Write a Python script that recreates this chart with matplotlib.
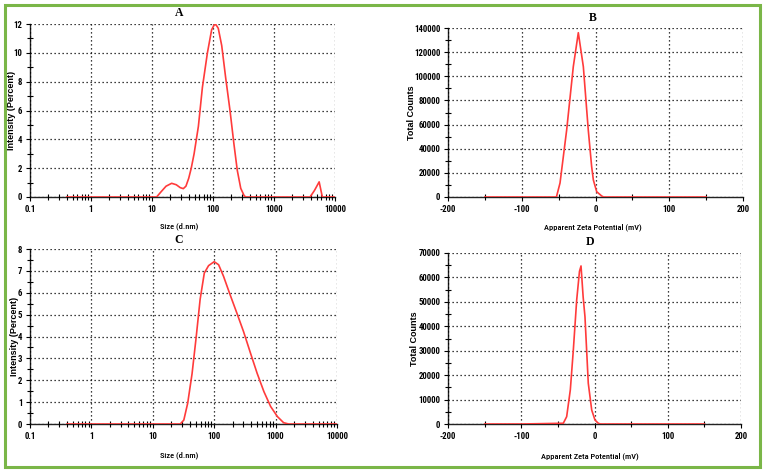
import matplotlib
matplotlib.use("Agg")
import matplotlib.pyplot as plt
from matplotlib import font_manager
from matplotlib.font_manager import FontProperties
from matplotlib.patches import Rectangle
from matplotlib.ticker import FixedLocator, NullFormatter, LogLocator

# ---------------- data ----------------
# Panel A: size distribution (intensity %)
size_a = [0.4, 1, 5, 11.9, 14, 17, 21, 25, 29, 32.6, 36, 40, 44, 49, 57.6, 67, 81, 95,
          105, 112, 122, 139, 161, 190, 220, 250, 285, 325, 347, 1000, 3900, 4600, 5500,
          6200, 8000, 10000]
int_a = [0, 0, 0, 0, 0.35, 0.75, 0.95, 0.85, 0.65, 0.58, 0.75, 1.3, 2.0, 3.0, 4.9, 7.6, 10.0, 11.6,
         11.95, 11.95, 11.7, 10.5, 8.3, 6.0, 3.7, 1.85, 0.6, 0.08, 0, 0, 0, 0.45, 1.05,
         0, 0, 0]

# Panel C: size distribution (intensity %)
size_c = [0.4, 1, 10, 28, 32, 37, 43.6, 51, 59, 69, 81, 100, 118, 142, 182, 234, 300,
          390, 500, 645, 830, 1070, 1350, 1630, 3000, 10000]
int_c = [0, 0, 0, 0, 0.18, 0.95, 2.3, 4.0, 5.7, 6.9, 7.24, 7.42, 7.28, 6.75, 5.9, 5.07, 4.23,
         3.24, 2.32, 1.48, 0.8, 0.34, 0.06, 0, 0, 0]

# Panel B: zeta potential (total counts)
zeta_b = [-150, -100, -53, -48.1, -39.1, -30.1, -23.3, -16.5, -9.8, -5.2, -2.9, 1.6, 8.4,
          11, 50, 100, 150]
counts_b = [0, 0, 0, 11600, 55500, 108000, 136100, 108000, 55500, 25100, 14100, 4400, 830,
            0, 0, 0, 0]

# Panel D: zeta potential (total counts)
zeta_d = [-150, -100, -42.6, -38, -33, -28.9, -24.3, -20.5, -18.4, -15.5, -13, -8.5, -3.8,
          0.7, 5.2, 8, 50, 100, 150]
counts_d = [0, 0, 300, 3000, 14000, 30300, 50800, 62500, 64700, 52000, 43900, 16700, 5700,
            1600, 300, 0, 0, 0, 0]

size_ticks = [0.1, 1, 10, 100, 1000, 10000]
size_labels = ["0.1", "1", "10", "100", "1000", "10000"]
zeta_ticks = [-200, -100, 0, 100, 200]
zeta_labels = ["-200", "-100", "0", "100", "200"]

# ---------------- fonts ----------------
def weight_num(w):
    if isinstance(w, (int, float)):
        return int(w)
    return font_manager.weight_dict.get(str(w), 400)


def find_narrow(target_weight):
    prefs = ["liberation sans narrow", "arial narrow", "roboto condensed",
             "open sans condensed", "noto sans condensed", "dejavu sans condensed"]
    cands = []
    for f in font_manager.fontManager.ttflist:
        nm = f.name.lower()
        fn = f.fname.lower()
        cond = ("narrow" in nm or "condensed" in nm or "narrow" in fn or "condensed" in fn
                or str(f.stretch) in ("condensed", "semi-condensed", "extra-condensed"))
        if not cond or f.style != "normal":
            continue
        key = nm + " " + ("condensed" if "condensed" in fn else "")
        rank = len(prefs)
        for i, p in enumerate(prefs):
            if p.split()[0] in key and ("narrow" in key or "condensed" in key):
                rank = i
                break
        cands.append((rank, abs(weight_num(f.weight) - target_weight), f.fname))
    if cands:
        cands.sort()
        return cands[0][2]
    return None

tick_path = find_narrow(650)
lab_path = find_narrow(500)
if tick_path:
    TICKFP = FontProperties(fname=tick_path, size=6.3)
    LABFP = FontProperties(fname=lab_path, size=6.0)
else:
    TICKFP = FontProperties(family="Liberation Sans", size=5.5, weight="bold")
    LABFP = FontProperties(family="Liberation Sans", size=5.5)
YLABFP = FontProperties(family="Liberation Sans", size=6.5, weight="bold")
serif = "Liberation Serif"

RED = "#ff3b3b"
GRID = dict(color="black", linestyle=(0, (1, 2.2)), linewidth=0.9)

fig = plt.figure(figsize=(7.65, 4.72), dpi=100)
fig.patches.append(Rectangle((5 / 765, 5 / 472), 755 / 765, 462 / 472, transform=fig.transFigure,
                             fill=False, edgecolor="#7ab648", linewidth=2.2))


def style(ax, title, tpos, xlab, xlpos, ylab, ylpos):
    for s in ("top", "right"):
        ax.spines[s].set_visible(False)
    for s in ("left", "bottom"):
        ax.spines[s].set_linewidth(1.0)
        ax.spines[s].set_color("#222222")
    ax.grid(True, which="major", **GRID)
    ax.set_axisbelow(False)
    ax.tick_params(which="major", direction="out", length=3, width=0.8, pad=2.5)
    ax.tick_params(which="minor", direction="inout", length=4, width=0.8)
    for lab in ax.get_xticklabels() + ax.get_yticklabels():
        lab.set_fontproperties(TICKFP)
    ax.text(tpos[0], tpos[1], title, transform=ax.transAxes, ha="center", va="center",
            family=serif, fontsize=8.5, fontweight="bold")
    ax.set_xlabel(xlab, fontproperties=LABFP)
    ax.xaxis.set_label_coords(xlpos[0], xlpos[1])
    ax.set_ylabel(ylab, fontproperties=YLABFP)
    ax.yaxis.set_label_coords(ylpos[0], ylpos[1])


def size_axes(ax, ymax):
    ax.set_xscale("log")
    ax.set_xlim(0.1, 10000)
    ax.set_ylim(0, ymax)
    ax.xaxis.set_major_locator(FixedLocator(size_ticks))
    ax.set_xticklabels(size_labels)
    ax.xaxis.set_minor_locator(LogLocator(base=10, subs=range(2, 10), numticks=20))
    ax.xaxis.set_minor_formatter(NullFormatter())


# A
axA = fig.add_axes([30 / 765, 1 - 197 / 472, 305 / 765, 173 / 472])
size_axes(axA, 12)
axA.set_yticks([0, 2, 4, 6, 8, 10, 12])
axA.set_yticks([1, 3, 5, 7, 9, 11], minor=True)
axA.plot(size_a, int_a, color=RED, lw=1.2, zorder=3)
style(axA, "A", (0.489, 1.064), "Size (d.nm)", (0.489, -0.148), "Intensity (Percent)", (-0.046, 0.5))

# C
axC = fig.add_axes([30 / 765, 1 - 424 / 472, 307 / 765, 175 / 472])
size_axes(axC, 8)
axC.set_yticks(range(0, 9))
axC.set_yticks([0.5 + i for i in range(8)], minor=True)
axC.plot(size_c, int_c, color=RED, lw=1.2, zorder=3)
style(axC, "C", (0.485, 1.051), "Size (d.nm)", (0.485, -0.154), "Intensity (Percent)", (-0.036, 0.5))


def zeta_axes(ax, ymax, step):
    ax.set_xlim(-200, 200)
    ax.set_ylim(0, ymax)
    ax.set_xticks(zeta_ticks)
    ax.set_xticklabels(zeta_labels)
    ax.set_xticks([-150, -50, 50, 150], minor=True)
    ax.set_yticks(range(0, ymax + 1, step))
    ax.set_yticks(range(step // 2, ymax, step), minor=True)


# B
axB = fig.add_axes([448 / 765, 1 - 197 / 472, 295 / 765, 169 / 472])
zeta_axes(axB, 140000, 20000)
axB.plot(zeta_b, counts_b, color=RED, lw=1.2, zorder=3)
style(axB, "B", (0.49, 1.059), "Apparent Zeta Potential (mV)", (0.49, -0.154), "Total Counts", (-0.107, 0.5))

# D
axD = fig.add_axes([448 / 765, 1 - 424 / 472, 293 / 765, 171 / 472])
zeta_axes(axD, 70000, 10000)
axD.plot(zeta_d, counts_d, color=RED, lw=1.2, zorder=3)
style(axD, "D", (0.485, 1.064), "Apparent Zeta Potential (mV)", (0.485, -0.164), "Total Counts", (-0.1, 0.5))

fig.savefig("out.png", dpi=100)
